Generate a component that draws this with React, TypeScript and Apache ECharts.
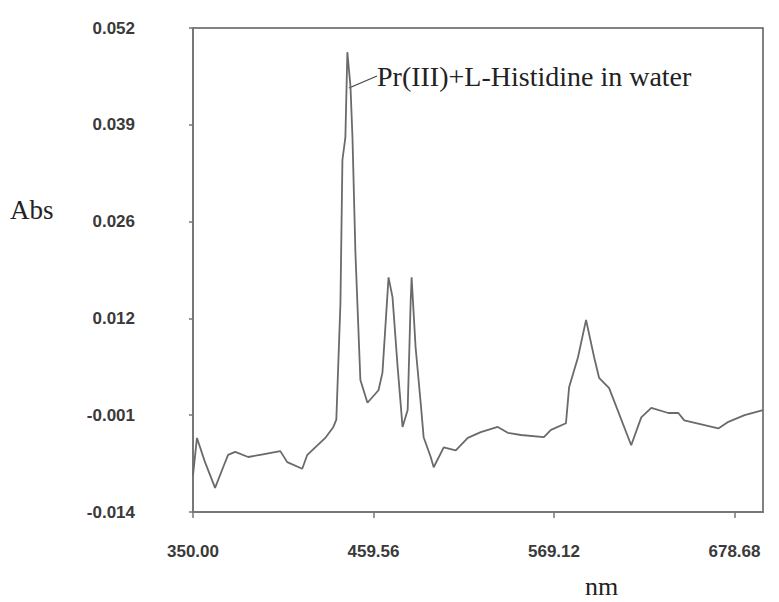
import React, { useEffect, useRef } from "react";
import * as echarts from "echarts";

// Wavelength (nm) and absorbance
const wavelengths = [
  350.0, 352.4, 357.3, 363.4, 368.3, 371.3, 375.6, 383.5, 390.8, 403.0,
  407.2, 416.3, 419.4, 430.3, 435.2, 437.0, 439.5, 440.7, 442.5, 443.7,
  445.6, 446.8, 448.6, 451.6, 455.9, 462.6, 465.0, 468.7, 471.1, 474.2,
  477.2, 480.3, 482.1, 482.7, 485.1, 488.2, 490.0, 494.3, 496.1, 502.2,
  509.5, 516.8, 524.7, 535.0, 541.1, 549.0, 563.0, 567.3, 576.4, 578.3,
  583.7, 588.6, 593.5, 596.5, 602.6, 616.0, 622.1, 628.2, 638.5, 644.6,
  648.2, 668.9, 675.0, 684.8, 696.0,
];
const absorbance = [
  -0.009, -0.0039, -0.0072, -0.0107, -0.0079, -0.0062, -0.0058, -0.0065, -0.0062, -0.0057,
  -0.0072, -0.0081, -0.0062, -0.0039, -0.0024, -0.0014, 0.0145, 0.034, 0.0371, 0.0487,
  0.044, 0.0371, 0.0213, 0.004, 0.0009, 0.0026, 0.005, 0.018, 0.0153, 0.0058,
  -0.0024, -0.0001, 0.0145, 0.018, 0.0085, 0.0009, -0.0038, -0.0065, -0.0079, -0.0052,
  -0.0056, -0.0039, -0.0031, -0.0024, -0.0032, -0.0035, -0.0038, -0.0028, -0.0019, 0.003,
  0.0071, 0.0122, 0.0071, 0.0043, 0.0029, -0.0049, -0.0011, 0.0002, -0.0005, -0.0005,
  -0.0015, -0.0026, -0.0017, -0.0008, -0.0001,
];

const xTicks = [350.0, 459.56, 569.12, 678.68];
const yTicks = [-0.014, -0.0008, 0.0124, 0.0256, 0.0388, 0.052];
const xRange = [350, 696];
const yRange = [-0.014, 0.052];

const seriesName = "Pr(III)+L-Histidine in water";
const yTitle = "Abs";
const xTitle = "nm";

export default function App() {
  const ref = useRef<HTMLDivElement>(null);

  useEffect(() => {
    if (!ref.current) return;
    const chart = echarts.init(ref.current, null, { renderer: "svg" });
    const data = wavelengths.map((w, i) => [w, absorbance[i]]);
    const labelFont = {
      fontFamily: "'Liberation Sans', Arial, sans-serif",
      fontWeight: "bold" as const,
      fontSize: 17,
      color: "#3a3a3a",
    };
    const serif = "'Liberation Serif', 'Times New Roman', serif";
    chart.setOption({
      animation: false,
      backgroundColor: "#ffffff",
      grid: {
        left: 193,
        top: 28,
        width: 570,
        height: 484,
        show: true,
        borderColor: "#5a5a5a",
        borderWidth: 1.5,
        backgroundColor: "transparent",
      },
      xAxis: {
        type: "value",
        min: xRange[0],
        max: xRange[1],
        axisLine: { show: true, onZero: false, lineStyle: { color: "#777", width: 2 } },
        axisTick: {
          show: true,
          customValues: xTicks,
          length: 6,
          lineStyle: { color: "#777", width: 1.5 },
        },
        axisLabel: {
          customValues: xTicks,
          formatter: (v: number) => v.toFixed(2),
          margin: 31,
          ...labelFont,
        },
        splitLine: { show: false },
      },
      yAxis: {
        type: "value",
        min: yRange[0],
        max: yRange[1],
        axisLine: { show: true, onZero: false, lineStyle: { color: "#777", width: 2 } },
        axisTick: {
          show: true,
          customValues: yTicks,
          length: 4,
          lineStyle: { color: "#777", width: 1.5 },
        },
        axisLabel: {
          customValues: yTicks,
          formatter: (v: number) => v.toFixed(3),
          margin: 58,
          ...labelFont,
        },
        splitLine: { show: false },
      },
      series: [
        {
          name: seriesName,
          type: "line",
          data,
          showSymbol: false,
          symbol: "none",
          lineStyle: { color: "#6a6a6a", width: 1.8 },
        },
      ],
      graphic: [
        {
          type: "text",
          left: 10,
          top: 196,
          style: { text: yTitle, font: `27px ${serif}`, fill: "#222" },
        },
        {
          type: "text",
          left: 585,
          top: 573,
          style: { text: xTitle, font: `26px ${serif}`, fill: "#222" },
        },
        {
          type: "line",
          shape: { x1: 349, y1: 88, x2: 377, y2: 76 },
          style: { stroke: "#444", lineWidth: 1.3 },
        },
        {
          type: "text",
          left: 377,
          top: 62,
          style: { text: seriesName, font: `28px ${serif}`, fill: "#222" },
        },
      ],
    });
    return () => chart.dispose();
  }, []);

  return (
    <div
      ref={ref}
      style={{ position: "fixed", left: 0, top: 0, width: 779, height: 602 }}
    />
  );
}
